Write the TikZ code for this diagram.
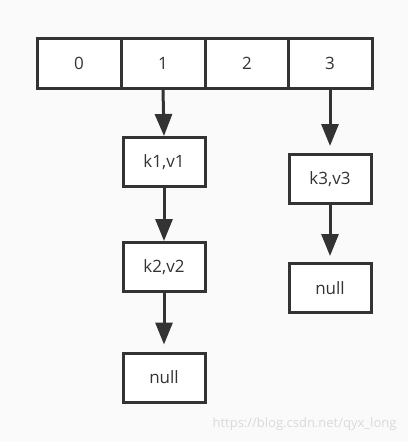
\documentclass[tikz,border=0pt]{standalone}
\usepackage{fontspec}
\setmainfont{Open Sans}
\usetikzlibrary{arrows.meta}
\definecolor{ink}{RGB}{51,51,51}
\definecolor{paper}{RGB}{250,250,250}
\definecolor{mark}{RGB}{218,218,218}

\begin{document}
\begin{tikzpicture}[x=1pt, y=-1pt,
  cell/.style={draw=ink, line width=3pt, fill=white, minimum width=84pt, minimum height=50pt, inner sep=0pt, font=\fontsize{17}{20}\selectfont, text=ink},
  entry/.style={cell, minimum width=82pt, minimum height=49pt},
  link/.style={draw=ink, line width=3pt, -{Triangle[length=22pt, width=17pt]}}]
  % Background
  \fill[paper] (0,0) rectangle (408,442);
  \useasboundingbox (0,0) rectangle (408,442);

  % Array of buckets
  \foreach \i/\x in {0/79, 1/163, 2/247, 3/330} {
    \node[cell] (cell\i) at (\x, 63) {\i};
  }

  % Chain of bucket 1
  \node[entry] (kv1) at (164, 162) {k1,v1};
  \node[entry] (kv2) at (164, 267) {k2,v2};
  \node[entry] (nil1) at (164, 377.5) {null};

  % Chain of bucket 3
  \node[entry] (kv3) at (330, 179) {k3,v3};
  \node[entry] (nil3) at (330, 288) {null};

  % Links
  \draw[link] (cell1.south) -- (kv1.north);
  \draw[link] (kv1.south) -- (kv2.north);
  \draw[link, shorten >=7pt] (kv2.south) -- (nil1.north);
  \draw[link, shorten >=7pt] (cell3.south) -- (kv3.north);
  \draw[link, shorten >=6pt] (kv3.south) -- (nil3.north);

  % Watermark
  \node[anchor=east, text=mark, font=\fontsize{13}{15}\selectfont] (wm) at (400, 424) {https://blog.csdn.net/qyx\_long};
\end{tikzpicture}
\end{document}
